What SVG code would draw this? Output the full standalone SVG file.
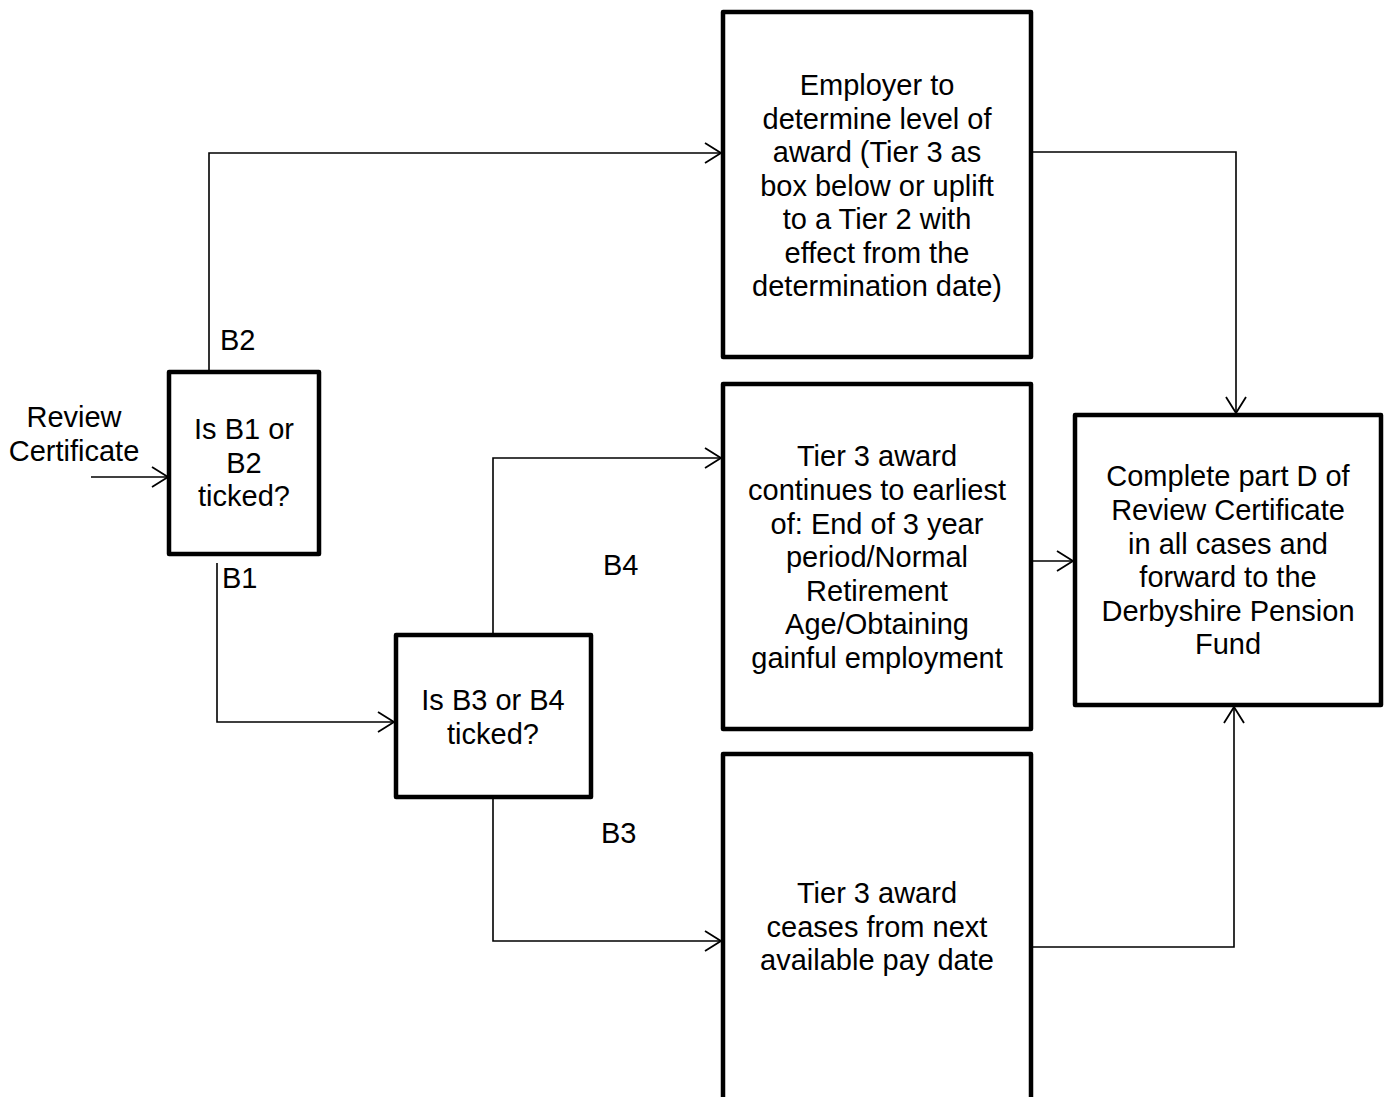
<svg xmlns="http://www.w3.org/2000/svg" width="1387" height="1097" viewBox="0 0 1387 1097">
<style>
.box{fill:#fff;stroke:#000;stroke-width:4.5;stroke-linejoin:round}
.c{fill:none;stroke:#000;stroke-width:1.6}
text{font-family:"Liberation Sans",Arial,sans-serif;font-size:29px;fill:#000}
.m{text-anchor:middle}
</style>
<defs>
<marker id="ah" markerUnits="userSpaceOnUse" markerWidth="24" markerHeight="24" viewBox="-18 -12 20 24" refX="0" refY="0" orient="auto" overflow="visible">
<path d="M-16,-10 L0,0 L-16,10" fill="none" stroke="#000" stroke-width="1.8"/>
</marker>
</defs>
<rect width="1387" height="1097" fill="#fff"/>
<g id="connectors">
<path class="c" d="M91,477 H168" marker-end="url(#ah)"/>
<path class="c" d="M209,370 V153 H721" marker-end="url(#ah)"/>
<path class="c" d="M217,563 V722 H394" marker-end="url(#ah)"/>
<path class="c" d="M493,633 V458 H721" marker-end="url(#ah)"/>
<path class="c" d="M493,799 V941 H721" marker-end="url(#ah)"/>
<path class="c" d="M1033,152 H1236 V413" marker-end="url(#ah)"/>
<path class="c" d="M1033,561 H1073" marker-end="url(#ah)"/>
<path class="c" d="M1033,947 H1234 V707" marker-end="url(#ah)"/>
</g>
<g id="labels">
<text class="m" x="74" y="427">Review</text>
<text class="m" x="74" y="461">Certificate</text>
<text x="220" y="350">B2</text>
<text x="222" y="588">B1</text>
<text x="603" y="575">B4</text>
<text x="601" y="843">B3</text>
</g>
<g id="q1">
<rect class="box" x="169" y="372" width="150" height="182"/>
<text class="m" x="244" y="439">Is B1 or</text>
<text class="m" x="244" y="473">B2</text>
<text class="m" x="244" y="506">ticked?</text>
</g>
<g id="q2">
<rect class="box" x="396" y="635" width="195" height="162"/>
<text class="m" x="493" y="710">Is B3 or B4</text>
<text class="m" x="493" y="744">ticked?</text>
</g>
<g id="employer">
<rect class="box" x="723" y="12" width="308" height="345"/>
<text class="m" x="877" y="95">Employer to</text>
<text class="m" x="877" y="128.5">determine level of</text>
<text class="m" x="877" y="162">award (Tier 3 as</text>
<text class="m" x="877" y="195.5">box below or uplift</text>
<text class="m" x="877" y="229">to a Tier 2 with</text>
<text class="m" x="877" y="262.5">effect from the</text>
<text class="m" x="877" y="296">determination date)</text>
</g>
<g id="continues">
<rect class="box" x="723" y="384" width="308" height="345"/>
<text class="m" x="877" y="466">Tier 3 award</text>
<text class="m" x="877" y="500">continues to earliest</text>
<text class="m" x="877" y="533.5">of: End of 3 year</text>
<text class="m" x="877" y="567">period/Normal</text>
<text class="m" x="877" y="600.5">Retirement</text>
<text class="m" x="877" y="634">Age/Obtaining</text>
<text class="m" x="877" y="667.5">gainful employment</text>
</g>
<g id="ceases">
<rect class="box" x="723" y="754" width="308" height="360"/>
<text class="m" x="877" y="903">Tier 3 award</text>
<text class="m" x="877" y="937">ceases from next</text>
<text class="m" x="877" y="970">available pay date</text>
</g>
<g id="complete">
<rect class="box" x="1075" y="415" width="306" height="290"/>
<text class="m" x="1228" y="486">Complete part D of</text>
<text class="m" x="1228" y="520">Review Certificate</text>
<text class="m" x="1228" y="553.5">in all cases and</text>
<text class="m" x="1228" y="587">forward to the</text>
<text class="m" x="1228" y="620.5">Derbyshire Pension</text>
<text class="m" x="1228" y="654">Fund</text>
</g>
</svg>
